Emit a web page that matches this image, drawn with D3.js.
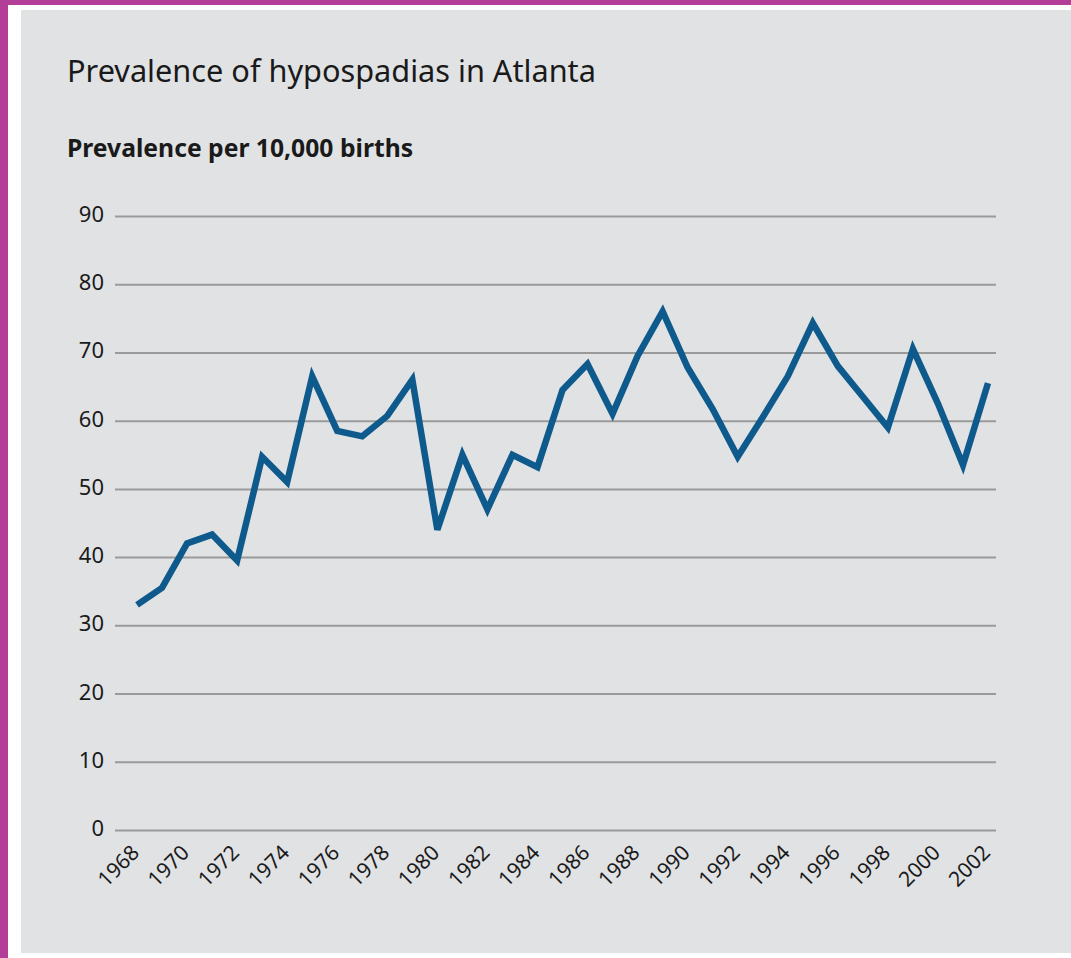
<!DOCTYPE html>
<html>
<head>
<meta charset="utf-8">
<script src="https://cdn.jsdelivr.net/npm/d3@7"></script>
<style>
  html, body { margin: 0; padding: 0; background: #ffffff; }
  svg { display: block; }
</style>
</head>
<body>
<div class="chart"></div>
<script>
// Prevalence of hypospadias in Atlanta, per 10,000 births
var years = d3.range(1968, 2003);
var prevalence = [33, 35.5, 42, 43.3, 39.5, 54.7, 51, 66.5, 58.5, 57.7, 60.7, 66,
  44, 55, 47, 55, 53.2, 64.5, 68.3, 61, 69.5, 76, 67.8, 61.7, 54.7, 60.5, 66.5,
  74.3, 68, 63.5, 59, 70.5, 62.5, 53.5, 65.5];
var yTicks = [0, 10, 20, 30, 40, 50, 60, 70, 80, 90];
var xTickYears = d3.range(1968, 2003, 2);

function hypospadias_chart() {
  var width = 1071,
    height = 958,
    margin = {top: 216, right: 75, bottom: 128, left: 115};
  var font = "'Noto Sans', 'Open Sans', sans-serif";

  var svg = d3.select('.chart')
    .append("svg")
    .attr("width", width)
    .attr("height", height);

  // purple frame, white gap, grey panel
  svg.append("rect").attr("x", 0).attr("y", 0).attr("width", width).attr("height", height).style("fill", "#b23e97");
  svg.append("rect").attr("x", 8).attr("y", 5).attr("width", width - 8).attr("height", height - 5).style("fill", "#ffffff");
  svg.append("rect").attr("x", 21).attr("y", 10).attr("width", width - 21).attr("height", 943).style("fill", "#e1e2e4");

  var xScale = d3.scaleLinear().domain([1968, 2002]).range([137, 988]);
  var yScale = d3.scaleLinear().domain([0, 90]).range([830, 216]);

  // gridlines + y labels
  var yAxis = d3.axisLeft(yScale)
    .tickValues(yTicks)
    .tickSize(-(996 - margin.left))
    .tickPadding(11)
    .tickFormat(d3.format("d"));

  var yG = svg.append("g")
    .attr("class", "y axis")
    .attr("transform", `translate(${margin.left},0)`)
    .call(yAxis);
  yG.select(".domain").remove();
  yG.selectAll(".tick line").style("stroke", "#9a9a9a").style("stroke-width", 2);
  yG.selectAll(".tick text")
    .attr("dy", "0.25em")
    .style("font-family", font)
    .style("font-size", "22px")
    .style("fill", "#1a1a1a");

  // x labels rotated
  var xAxis = d3.axisBottom(xScale)
    .tickValues(xTickYears)
    .tickSize(0)
    .tickFormat(d3.format("d"));

  var xG = svg.append("g")
    .attr("class", "x axis")
    .attr("transform", `translate(0,842)`)
    .call(xAxis);
  xG.select(".domain").remove();
  xG.selectAll(".tick text")
    .attr("text-anchor", "end")
    .attr("x", 0)
    .attr("y", 0)
    .attr("dy", 0)
    .attr("transform", "translate(3,12) rotate(-45)")
    .style("font-family", font)
    .style("font-size", "21px")
    .style("fill", "#1a1a1a");

  // the line
  var line = d3.line()
    .x((d, i) => xScale(years[i]))
    .y(d => yScale(d));

  svg.append("path")
    .datum(prevalence)
    .attr("d", line)
    .style("fill", "none")
    .style("stroke", "#0e5a8c")
    .style("stroke-width", 6.5)
    .style("stroke-linejoin", "miter");

  // chart title
  svg.append("text")
    .attr("x", 67)
    .attr("y", 82)
    .style("font-family", font)
    .style("font-size", "30.7px")
    .style("fill", "#1a1a1a")
    .text("Prevalence of hypospadias in Atlanta");

  // y-axis title
  svg.append("text")
    .attr("x", 67)
    .attr("y", 157)
    .style("font-family", font)
    .style("font-size", "24.7px")
    .style("font-weight", "bold")
    .style("fill", "#1a1a1a")
    .text("Prevalence per 10,000 births");
}

hypospadias_chart();
</script>
</body>
</html>
